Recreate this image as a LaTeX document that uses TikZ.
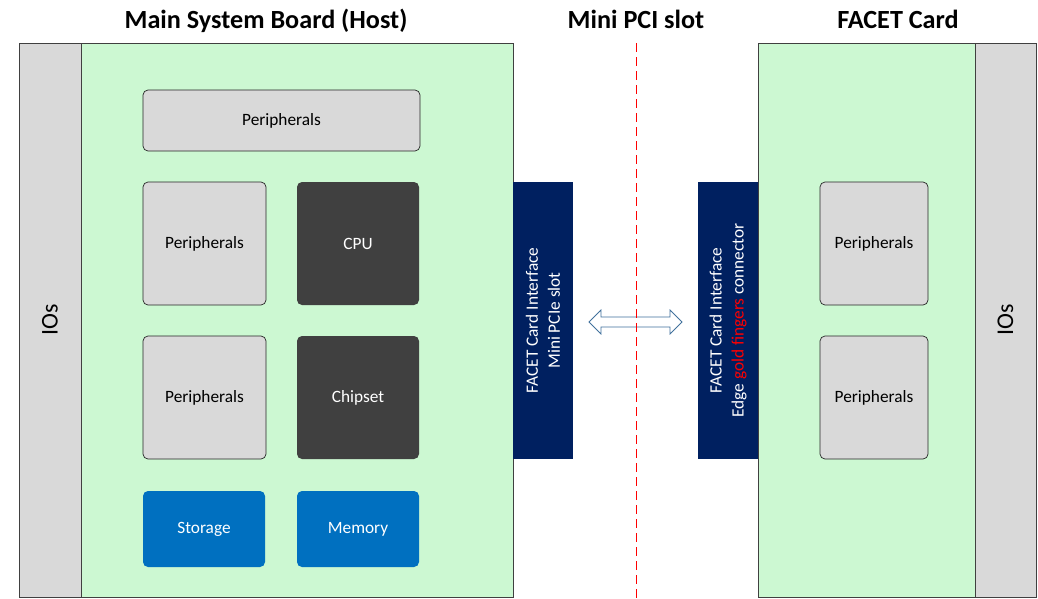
\documentclass[tikz,border=0pt]{standalone}
\usepackage{fontspec}
\setmainfont{Carlito}
\usetikzlibrary{calc}
\definecolor{boardgreen}{RGB}{204,248,210}
\definecolor{partgray}{RGB}{217,217,217}
\definecolor{chipdark}{RGB}{64,64,64}
\definecolor{memblue}{RGB}{0,112,192}
\definecolor{slotnavy}{RGB}{0,32,96}
\definecolor{linkblue}{RGB}{65,113,156}
\newcommand{\partfont}{\fontsize{17.3}{22}\selectfont}
\tikzset{
board/.style={draw=black!75, line width=0.8pt, inner sep=0pt},
ioside/.style={board, fill=partgray, rotate=90, minimum width=554pt,
	minimum height=62pt, font=\fontsize{24}{28}\selectfont},
part/.style={draw=black!85, line width=0.7pt, rounded corners=5pt,
	fill=partgray, inner sep=0pt, font=\partfont},
chip/.style={rounded corners=5pt, fill=chipdark, text=white, inner sep=0pt,
	font=\partfont},
mem/.style={rounded corners=5pt, fill=memblue, text=white, inner sep=0pt,
	font=\partfont},
iface/.style={fill=slotnavy, text=white, rotate=90, align=center,
	minimum width=277pt, minimum height=60pt, inner sep=0pt, font=\partfont},
title/.style={anchor=base, font=\bfseries\fontsize{26.2}{31}\selectfont}
}

\begin{document}
\begin{tikzpicture}[x=1pt, y=-1pt]
	\fill[white] (0,0) rectangle (1038,598);
	\useasboundingbox (0,0) rectangle (1038,598);

	\node[title] (hostT) at (266,28) {Main System Board (Host)};
	\node[title] (slotT) at (636,28) {Mini PCI slot};
	\node[title] (cardT) at (898,28) {FACET Card};

	\node[ioside] (hostIO) at (50,320) {IOs};
	\node[board, fill=boardgreen, minimum width=432pt, minimum height=554pt]
		(host) at (297,320) {};
	\node[board, fill=boardgreen, minimum width=217pt, minimum height=554pt]
		(card) at (866.5,320) {};
	\node[ioside, minimum height=61pt] (cardIO) at (1005.5,320) {IOs};

	\node[part, minimum width=277pt, minimum height=61pt] (per1) at (281.5,120.5) {Peripherals};
	\node[part, minimum width=123pt, minimum height=123pt] (per2) at (204.5,243.5) {Peripherals};
	\node[chip, minimum width=122pt, minimum height=123pt] (cpu) at (358,243.5) {CPU};
	\node[part, minimum width=123pt, minimum height=123pt] (per3) at (204.5,397.5) {Peripherals};
	\node[chip, minimum width=122pt, minimum height=123pt] (chipset) at (358,397.5) {Chipset};
	\node[mem, minimum width=122pt, minimum height=76pt] (storage) at (204,529) {Storage};
	\node[mem, minimum width=122pt, minimum height=76pt] (memory) at (358,529) {Memory};

	\node[part, minimum width=108pt, minimum height=123pt] (cper1) at (874,243.5) {Peripherals};
	\node[part, minimum width=108pt, minimum height=123pt] (cper2) at (874,397.5) {Peripherals};

	\node[iface] (ifL) at (543,320.5) {FACET Card Interface\\Mini PCIe slot};
	\node[iface] (ifR) at (728,320.5)
		{FACET Card Interface\\Edge {\color{red}gold fingers} connector};

	\coordinate (linkL) at (589,322);
	\coordinate (linkR) at (682,322);
	\draw[linkblue, line width=0.8pt, fill=white] (linkL) -- ++(12,-12) -- ++(0,7)
		-- ($(linkR)+(-12,-5)$) -- ++(0,-7) -- (linkR) -- ++(-12,12) -- ++(0,-7)
		-- ($(linkL)+(12,5)$) -- ++(0,7) -- cycle;

	\coordinate (slotTop) at (636,43);
	\coordinate (slotBot) at (636,598);
	\draw[red, line width=1pt, dash pattern=on 9pt off 5pt] (slotTop) -- (slotBot);
\end{tikzpicture}
\end{document}
